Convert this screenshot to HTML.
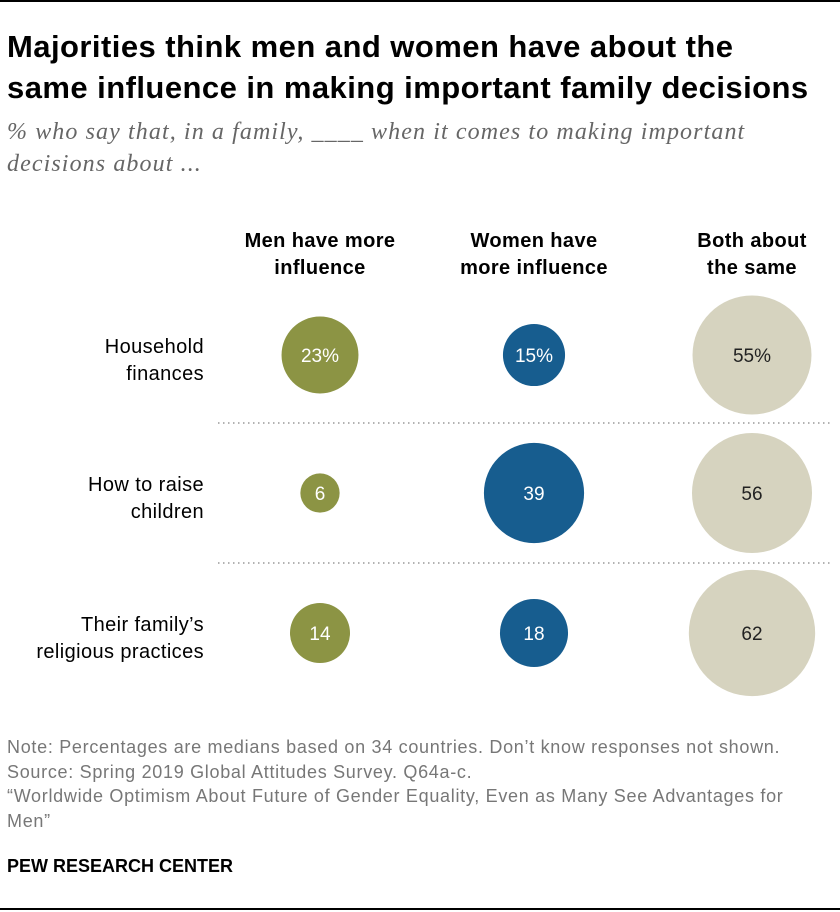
<!DOCTYPE html>
<html><head><meta charset="utf-8"><style>
body{margin:0;width:840px;height:912px;background:#fff;font-family:"Liberation Sans",sans-serif;position:relative;overflow:hidden}
.abs{position:absolute}
</style></head><body>
<div class="abs" style="left:0;top:0;width:840px;height:2px;background:#000"></div>
<div class="abs" style="left:7px;top:26px;font-size:31px;letter-spacing:0.45px;font-weight:bold;line-height:41px;color:#000;width:833px;white-space:nowrap">Majorities think men and women have about the<br>same influence in making important family decisions</div>
<div class="abs" style="left:7px;top:116px;font-family:'Liberation Serif',serif;font-style:italic;font-size:24px;letter-spacing:1.1px;line-height:32px;color:#666;white-space:nowrap">% who say that, in a family, ____ when it comes to making important<br>decisions about ...</div>
<svg class="abs" style="left:0;top:0" width="840" height="912" id="chart"></svg>
<div class="abs" style="left:7px;top:735px;font-size:18px;letter-spacing:0.7px;line-height:24.5px;color:#777;white-space:nowrap">Note: Percentages are medians based on 34 countries. Don’t know responses not shown.<br>Source: Spring 2019 Global Attitudes Survey. Q64a-c.<br>“Worldwide Optimism About Future of Gender Equality, Even as Many See Advantages for<br>Men”</div>
<div class="abs" style="left:7px;top:856px;font-size:18px;font-weight:bold;color:#000">PEW RESEARCH CENTER</div>
<div class="abs" style="left:0;top:908px;width:840px;height:2px;background:#000"></div>
<script>
const categories=["Household|finances","How to raise|children","Their family’s|religious practices"];
const columns=["Men have more|influence","Women have|more influence","Both about|the same"];
const menVals=[23,6,14];
const womenVals=[15,39,18];
const bothVals=[55,56,62];
const colX=[320,534,752], rowY=[355,493,633], colors=["#8c9444","#175d8f","#d6d3bf"], textCol=["#fff","#fff","#222"];
const svg=document.getElementById('chart');const NS="http://www.w3.org/2000/svg";
function rad(v){return 8.02*Math.sqrt(v);}
function mk(t,a){const e=document.createElementNS(NS,t);for(const k in a)e.setAttribute(k,a[k]);svg.appendChild(e);return e;}
columns.forEach((c,i)=>{c.split('|').forEach((l,j)=>{const t=mk('text',{x:colX[i],y:247+j*27,'text-anchor':'middle','font-size':20,'letter-spacing':0.4,'font-weight':'bold',fill:'#000'});t.textContent=l;

});});
categories.forEach((c,r)=>{c.split('|').forEach((l,j)=>{const t=mk('text',{x:204,y:rowY[r]-2+j*27,'text-anchor':'end','font-size':20,'letter-spacing':0.4,fill:'#000'});t.textContent=l;

});
if(r>0){const ln=mk('line',{x1:218,x2:830,y1:rowY[r]-70,y2:rowY[r]-70,stroke:'#999','stroke-width':1.5,'stroke-dasharray':'1.5,3.5'});

}});
[menVals,womenVals,bothVals].forEach((s,i)=>{s.forEach((v,r)=>{const c=mk('circle',{cx:colX[i],cy:rowY[r],r:rad(v),fill:colors[i]});


const t=mk('text',{x:colX[i],y:rowY[r]+7,'text-anchor':'middle','font-size':19,fill:textCol[i]});t.textContent=v+(r===0?'%':'');

});});
</script>
</body></html>
